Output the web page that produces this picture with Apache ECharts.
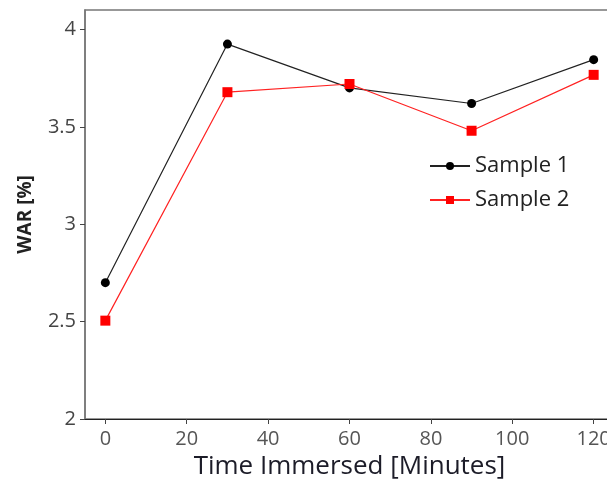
<!DOCTYPE html>
<html><head><meta charset="utf-8">
<script src="https://cdn.jsdelivr.net/npm/echarts@6/dist/echarts.min.js"></script>
<style>html,body{margin:0;padding:0;background:#fff}#c{width:607px;height:480px}</style>
</head><body><div id="c"></div>
<script>
const times = [0, 30, 60, 90, 120];
const sample1 = [2.70, 3.925, 3.70, 3.62, 3.845];
const sample2 = [2.505, 3.678, 3.72, 3.48, 3.767];
const seriesNames = ['Sample 1', 'Sample 2'];
const xTicks = [0, 20, 40, 60, 80, 100, 120];
const yTicks = [2, 2.5, 3, 3.5, 4];
const xTitle = 'Time Immersed [Minutes]';
const yTitle = 'WAR [%]';

const font = '"Open Sans", "DejaVu Sans", sans-serif';
const chart = echarts.init(document.getElementById('c'), null, {renderer: 'canvas'});
chart.setOption({
  animation: false,
  backgroundColor: '#fff',
  grid: {left: 85, right: -7, top: 10, bottom: 61, containLabel: false, outerBoundsMode: 'none',
    show: true, borderColor: '#777', borderWidth: 1.5, backgroundColor: 'transparent'},
  xAxis: {
    type: 'value', min: -5, max: 125,
    name: xTitle, nameLocation: 'middle', nameGap: 34,
    nameTextStyle: {fontFamily: font, fontSize: 26, color: '#1c1c28', fontWeight: 500},
    axisLine: {show: true, onZero: false, lineStyle: {color: '#222', width: 1.2}},
    axisTick: {show: true, length: 5, customValues: xTicks, lineStyle: {color: '#444'}},
    axisLabel: {fontFamily: font, fontSize: 20, color: '#555', margin: 10, customValues: xTicks},
    splitLine: {show: false}
  },
  yAxis: {
    type: 'value', min: 2, max: 4.1,
    name: yTitle, nameLocation: 'middle', nameGap: 50, nameRotate: 90,
    nameTextStyle: {fontFamily: font, fontSize: 19, color: '#222', fontWeight: 'bold'},
    axisLine: {show: true, onZero: false, lineStyle: {color: '#777', width: 1.5}},
    axisTick: {show: true, length: 5, customValues: yTicks, lineStyle: {color: '#444'}},
    axisLabel: {fontFamily: font, fontSize: 20, color: '#444', margin: 9, customValues: yTicks},
    splitLine: {show: false}
  },
  legend: {
    orient: 'vertical', left: 424, top: 150, itemGap: 12,
    itemWidth: 40, itemHeight: 10,
    textStyle: {fontFamily: font, fontSize: 22, color: '#222'},
    data: seriesNames
  },
  series: [
    {name: seriesNames[0], type: 'line', data: times.map((t, i) => [t, sample1[i]]),
     symbol: 'circle', symbolSize: 9, itemStyle: {color: '#000'}, lineStyle: {color: '#222', width: 1.2}},
    {name: seriesNames[1], type: 'line', data: times.map((t, i) => [t, sample2[i]]),
     symbol: 'rect', symbolSize: 10, itemStyle: {color: '#f00'}, lineStyle: {color: '#f22', width: 1.2}}
  ]
});
</script></body></html>
